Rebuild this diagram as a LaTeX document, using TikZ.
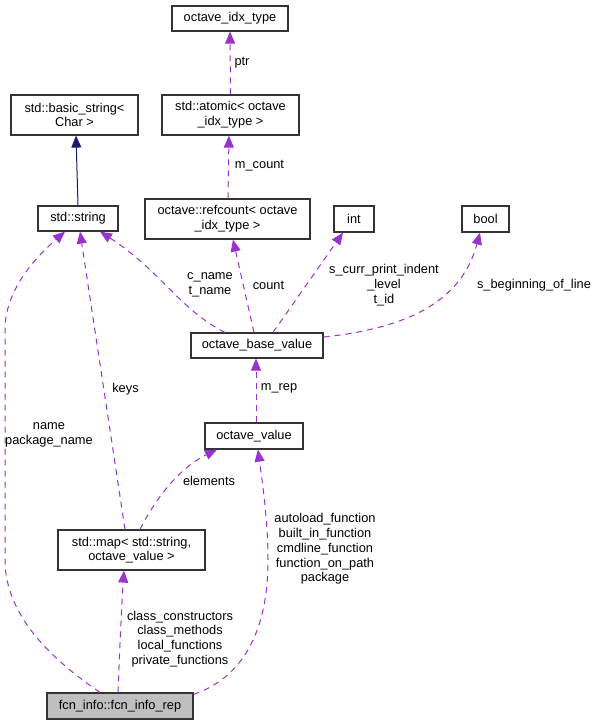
\documentclass[tikz,border=0pt]{standalone}
\usepackage{fontspec}
\setmainfont{Liberation Sans}
\usetikzlibrary{arrows.meta}
\definecolor{edgepurple}{HTML}{9A32CD}
\definecolor{edgenavy}{HTML}{191970}
\definecolor{repgrey}{HTML}{BFBFBF}
\definecolor{boxline}{HTML}{333333}
\begin{document}
\begin{tikzpicture}[x=1pt,y=-1pt,
  every node/.style={font=\fontsize{12.8}{14.7}\selectfont, inner sep=0pt},
  cls/.style={draw=boxline, line width=1.2pt, fill=white, align=center},
  usesedge/.style={draw=edgepurple, line width=1pt, dash pattern=on 6pt off 5pt,
     -{Triangle[length=12pt,width=10pt,fill=edgepurple]}},
  inheritedge/.style={draw=edgenavy, line width=1pt,
     -{Triangle[length=12pt,width=10pt,fill=edgenavy]}},
  lbl/.style={align=center}]
\useasboundingbox (0,0) rectangle (597,725);

% nodes
\node[cls, minimum width=116pt, minimum height=25pt] (idx) at (230,18.5) {octave\_idx\_type};
\node[cls, minimum width=137pt, minimum height=40pt] (atomic) at (230.5,115) {std::atomic< octave\\\_idx\_type >};
\node[cls, minimum width=127pt, minimum height=40pt] (basic) at (74.5,115) {std::basic\_string<\\Char >};
\node[cls, minimum width=80pt, minimum height=25pt] (string) at (78,218.5) {std::string};
\node[cls, minimum width=165pt, minimum height=40pt] (refcount) at (227.5,219) {octave::refcount< octave\\\_idx\_type >};
\node[cls, minimum width=40pt, minimum height=26pt] (int) at (354,219) {int};
\node[cls, minimum width=47pt, minimum height=26pt] (bool) at (485.5,219) {bool};
\node[cls, minimum width=132pt, minimum height=25pt] (base) at (257,345.5) {octave\_base\_value};
\node[cls, minimum width=98pt, minimum height=26pt] (ovalue) at (254,436) {octave\_value};
\node[cls, minimum width=147pt, minimum height=40pt] (map) at (131.5,550) {std::map< std::string,\\octave\_value >};
\node[cls, fill=repgrey, minimum width=146pt, minimum height=26pt] (rep) at (120,706) {fcn\_info::fcn\_info\_rep};

% edges
\draw[inheritedge] (string.north) -- ([xshift=1.5pt]basic.south);
\draw[usesedge] (atomic.north) -- (idx.south);
\node[lbl] (lptr) at (242,63) {ptr};
\draw[usesedge] ([xshift=0.5pt]refcount.north) -- ([xshift=-1.5pt]atomic.south);
\node[lbl] (lmcount) at (259.5,166) {m\_count};
\draw[usesedge] ([xshift=-3pt]base.north) -- ([xshift=5.5pt]refcount.south);
\node[lbl] (lcount) at (268.5,285) {count};
\draw[usesedge] ([xshift=16pt]base.north) -- ([xshift=-11pt]int.south);
\node[lbl] (lint) at (384,285) {s\_curr\_print\_indent\\\_level\\t\_id};
\draw[usesedge] ([yshift=8.5pt]base.east) .. controls (410,328) and (462,300) .. ([xshift=-5.5pt]bool.south);
\node[lbl] (lbool) at (534,285) {s\_beginning\_of\_line};
\draw[usesedge] ([xshift=-32pt]base.north) .. controls (180,310) and (160,270) .. ([xshift=22pt]string.south);
\node[lbl] (lcname) at (210,285) {c\_name\\t\_name};
\draw[usesedge] ([xshift=2pt]ovalue.north) -- ([xshift=-1pt]base.south);
\node[lbl] (lmrep) at (279,388) {m\_rep};
\draw[usesedge] ([xshift=-6.5pt]map.north) -- ([xshift=2pt]string.south);
\node[lbl] (lkeys) at (125.5,389) {keys};
\draw[usesedge] ([xshift=8.5pt]map.north) .. controls (160,490) and (185,465) .. ([xshift=-37pt]ovalue.south);
\node[lbl] (lelements) at (209,481) {elements};
\draw[usesedge] ([xshift=-20pt]rep.north) .. controls (60,665) and (5,620) .. (5,560) -- (5,330) .. controls (5,290) and (35,258) .. ([xshift=-13pt]string.south);
\node[lbl] (lname) at (49,435) {name\\package\_name};
\draw[usesedge] ([xshift=-2pt]rep.north) .. controls (120,640) and (122,600) .. ([xshift=-7.5pt]map.south);
\node[lbl] (lmap) at (180,639) {class\_constructors\\class\_methods\\local\_functions\\private\_functions};
\draw[usesedge] ([yshift=-2pt]rep.north east) .. controls (250,675) and (268,620) .. (268,560) .. controls (268,520) and (262,480) .. ([xshift=4pt]ovalue.south);
\node[lbl] (lovalue) at (325,549) {autoload\_function\\built\_in\_function\\cmdline\_function\\function\_on\_path\\package};
\end{tikzpicture}
\end{document}
